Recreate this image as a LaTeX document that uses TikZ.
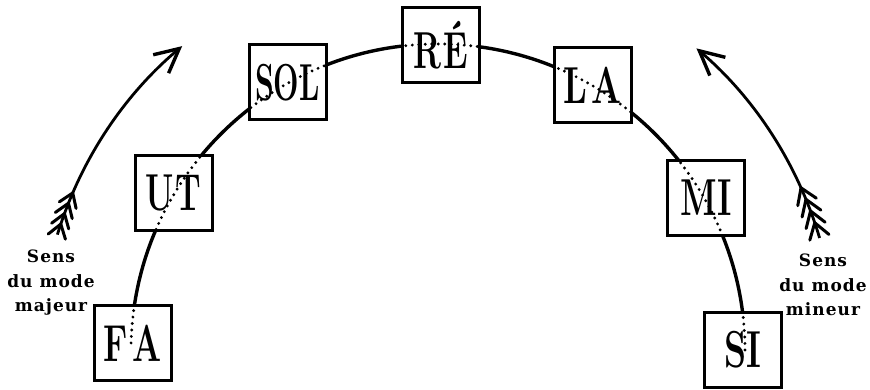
\documentclass[tikz,border=0pt]{standalone}
\usepackage{fontspec}
\usepackage{graphicx}
\newfontfamily\labfont[LetterSpace=6]{DejaVu Serif}
\usetikzlibrary{arrows.meta,backgrounds}
\tikzset{
  note/.style={draw, line width=3pt, fill=white, minimum width=77pt, minimum height=75pt, inner sep=0pt,
    font=\fontsize{52}{52}\selectfont\bfseries},
  ring/.style={line width=3.4pt},
  ringdots/.style={line width=3.2pt, line cap=round, dash pattern=on 0pt off 6.5pt},
  dirarrow/.style={line width=2.8pt, -{Straight Barb[length=24pt,width=24pt,line width=3.4pt]}},
  barb/.style={line width=3pt, line cap=round, line join=round},
  sens/.style={align=center, font=\labfont\bfseries\fontsize{17}{24.5}\selectfont},
}
\newcommand{\sqz}[2][0.68]{\scalebox{#1}[1]{#2}}
\begin{document}
\begin{tikzpicture}[x=1pt,y=1pt]
\useasboundingbox (0,0) rectangle (870,389);
\coordinate (c) at (438,38);
% boxes
\node[note] (fa)  at (132.5,46)   {\sqz[0.66]{F\kern6pt A}};
\node[note] (ut)  at (173.5,196.5){\sqz[0.63]{U\kern3pt T}};
\node[note] (sol) at (287.5,306.5){\sqz[0.58]{SOL}};
\node[note] (re)  at (441,343.5)  {\sqz[0.64]{R\kern3pt É}};
\node[note] (la)  at (593,303.5)  {\sqz[0.68]{L\kern6pt A}};
\node[note] (mi)  at (706,191)    {\sqz[0.66]{MI}};
\node[note] (si)  at (743,39.5)   {\sqz[0.68]{SI}};
% solid ring behind boxes
\begin{scope}[on background layer]
  \draw[ring] ([shift={(178.5:307pt)}]c) arc[start angle=178.5, end angle=0, radius=307pt];
\end{scope}
% dotted ring inside boxes
\begin{scope}
  \clip (fa.south west) rectangle (fa.north east)
        (ut.south west) rectangle (ut.north east)
        (sol.south west) rectangle (sol.north east)
        (re.south west) rectangle (re.north east)
        (la.south west) rectangle (la.north east)
        (mi.south west) rectangle (mi.north east)
        (si.south west) rectangle (si.north east);
  \draw[ringdots] ([shift={(178.5:307pt)}]c) arc[start angle=178.5, end angle=0, radius=307pt];
\end{scope}
% direction arrows
\draw[dirarrow] ([shift={(163:398pt)}]c) arc[start angle=163, end angle=130, radius=398pt];
\draw[dirarrow] ([shift={(16.5:398pt)}]c) arc[start angle=16.5, end angle=49.5, radius=398pt];
\foreach \a in {156.6,158.2,159.8,161.4}
  \draw[barb] ([shift={(\a+1.9:407pt)}]c) -- ([shift={(\a:398pt)}]c) -- ([shift={(\a+1.9:389pt)}]c);
\foreach \a in {24.2,22.4,20.6,18.8}
  \draw[barb] ([shift={(\a-2.2:408pt)}]c) -- ([shift={(\a:398pt)}]c) -- ([shift={(\a-2.2:388pt)}]c);
% labels
\node[sens] (lmaj) at (51,106) {Sens\\du mode\\majeur};
\node[sens] (lmin) at (823,104) {Sens\\du mode\\mineur};
\end{tikzpicture}
\end{document}
